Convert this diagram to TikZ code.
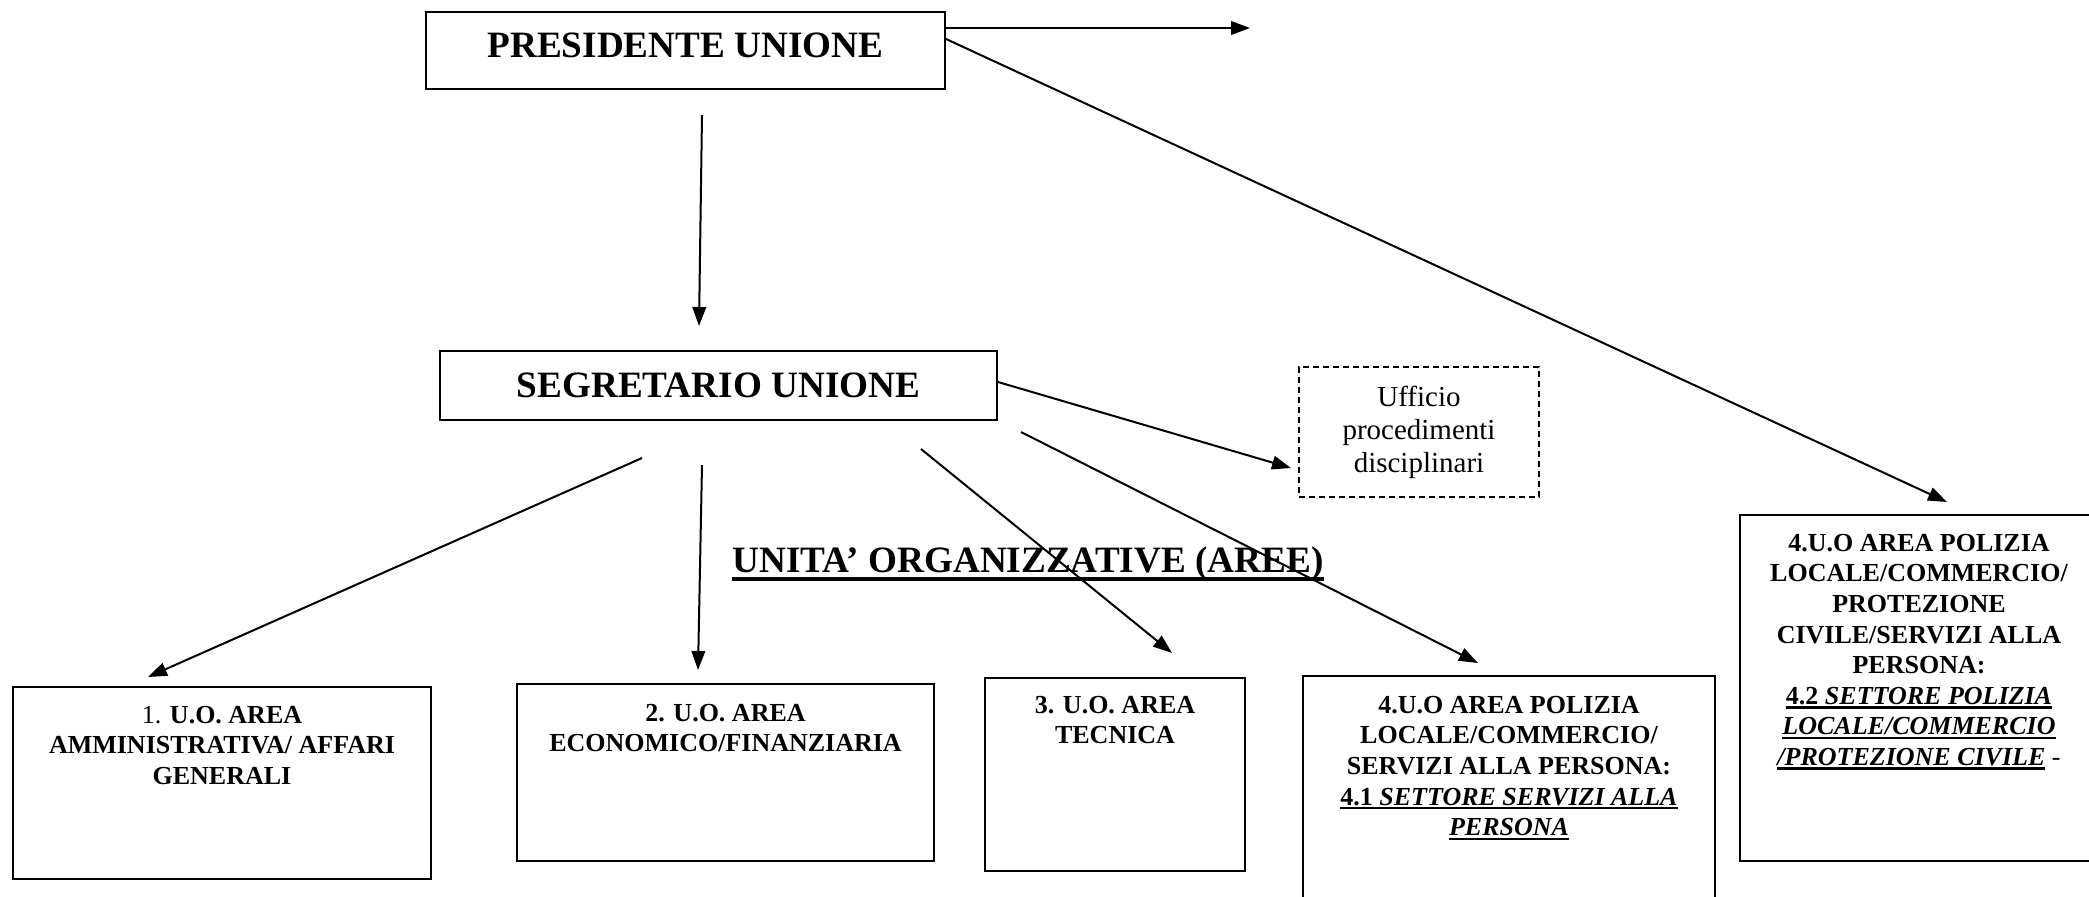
\documentclass[tikz,border=0pt]{standalone}
\usepackage{fontspec}
\setmainfont{Liberation Serif}
\usetikzlibrary{arrows.meta}
\newsavebox\ulbox
\newlength\uldp \newlength\ulth
\setlength\uldp{1pt}\setlength\ulth{1.2pt}
\newcommand\myul[1]{\sbox\ulbox{#1}\leavevmode\rlap{\rule[\dimexpr-\uldp-\ulth\relax]{\wd\ulbox}{\ulth}}\usebox\ulbox}
\newcommand\bxc[4]{\parbox[c][#2][t]{#1}{\centering\fontsize{13}{15.3}\selectfont\bfseries\vspace*{#3}#4}}
\newcommand\bigc[4]{\parbox[c][#2][t]{#1}{\centering\fontsize{18.6}{22}\selectfont\bfseries\vspace*{#3}#4}}
\begin{document}
\begin{tikzpicture}[x=0.5pt,y=-0.5pt,
  box/.style={draw,line width=1pt,inner sep=0pt,rectangle},
  dashbox/.style={draw,line width=0.8pt,dash pattern=on 3pt off 2pt,inner sep=0pt,rectangle,align=center,font=\fontsize{14.5}{16.5}\selectfont},
  arr/.style={line width=1pt,-{Triangle[length=9.5pt,width=6.8pt]}}]
\useasboundingbox (0,0) rectangle (2089,896);
\clip (0,0) rectangle (2089,896);

\node[box] (pres) at (685.5,50.5) {\bigc{259.5pt}{38.5pt}{10.4pt}{PRESIDENTE UNIONE}};
\node[box] (seg) at (718.5,385.5) {\bigc{278.5pt}{34.5pt}{10.75pt}{SEGRETARIO UNIONE}};
\node[dashbox,minimum width=120pt,minimum height=65pt] (uff) at (1419,432) {Ufficio\\procedimenti\\disciplinari};

\node[anchor=base west,inner sep=0pt,font=\fontsize{18.6}{22}\selectfont\bfseries] (title) at (732,572)
  {\setlength\uldp{2.6pt}\setlength\ulth{1.7pt}\myul{UNITA’ ORGANIZZATIVE (AREE)}};

\node[box] (b1) at (222,783) {\bxc{209pt}{96pt}{9.5pt}{{\mdseries 1.} U.O. AREA\\AMMINISTRATIVA/ AFFARI\\GENERALI}};
\node[box] (b2) at (725.5,772.5) {\bxc{208.5pt}{88.5pt}{10pt}{2. U.O. AREA\\ECONOMICO/FINANZIARIA}};
\node[box] (b3) at (1115,774.5) {\bxc{130pt}{96.5pt}{9pt}{3. U.O. AREA\\TECNICA}};
\node[box] (b41) at (1509,803) {\bxc{206pt}{127pt}{10pt}{4.U.O AREA POLIZIA\\LOCALE/COMMERCIO/\\SERVIZI ALLA PERSONA:\\\myul{4.1 \textit{SETTORE SERVIZI ALLA}}\\\myul{\textit{PERSONA}}}};
\node[box] (b42) at (1919,688) {\bxc{179pt}{173pt}{9.5pt}{4.U.O AREA POLIZIA\\LOCALE/COMMERCIO/\\PROTEZIONE\\CIVILE/SERVIZI ALLA\\PERSONA:\\\myul{4.2 \textit{SETTORE POLIZIA}}\\\myul{\textit{LOCALE/COMMERCIO}}\\\myul{\textit{/PROTEZIONE CIVILE}} {\mdseries -}}};

\coordinate (p1) at (1250,28);
\coordinate (p2) at (1947,502);
\coordinate (p3s) at (702,115);
\coordinate (p3e) at (699,326);
\coordinate (p4) at (1291,468);
\coordinate (s5) at (642,458);  \coordinate (e5) at (148,677);
\coordinate (s6) at (702,465);  \coordinate (e6) at (698,670);
\coordinate (s7) at (921,449);  \coordinate (e7) at (1172,653);
\coordinate (s8) at (1021,432); \coordinate (e8) at (1478,663);

\draw[arr] (pres.east |- p1) -- (p1);
\draw[arr] ([yshift=5.75pt]pres.east) -- (p2);
\draw[arr] (p3s) -- (p3e);
\draw[arr] ([yshift=1.75pt]seg.east) -- (p4);
\draw[arr] (s5) -- (e5);
\draw[arr] (s6) -- (e6);
\draw[arr] (s7) -- (e7);
\draw[arr] (s8) -- (e8);
\end{tikzpicture}
\end{document}
